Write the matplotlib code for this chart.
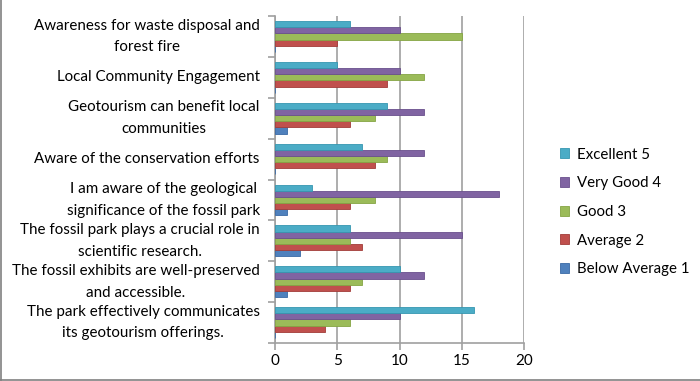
import numpy as np
import matplotlib.pyplot as plt
from matplotlib.lines import Line2D

plt.rcParams['font.family'] = ['Lato', 'DejaVu Sans']

# categories, bottom to top as drawn
categories = [
    "The park effectively communicates\nits geotourism offerings.",
    "The fossil exhibits are well-preserved\nand accessible.",
    "The fossil park plays a crucial role in\nscientific research.",
    "I am aware of the geological\nsignificance of the fossil park",
    "Aware of the conservation efforts",
    "Geotourism can benefit local\ncommunities",
    "Local Community Engagement",
    "Awareness for waste disposal and\nforest fire",
]

below_average_1 = [0, 1, 2, 1, 0, 1, 0, 0]
average_2 = [4, 6, 7, 6, 8, 6, 9, 5]
good_3 = [6, 7, 6, 8, 9, 8, 12, 15]
very_good_4 = [10, 12, 15, 18, 12, 12, 10, 10]
excellent_5 = [16, 10, 6, 3, 7, 9, 5, 6]

series = [
    ("Below Average 1", below_average_1, "#4F81BD", "#3A6AA6"),
    ("Average 2", average_2, "#C0504D", "#A23C39"),
    ("Good 3", good_3, "#9BBB59", "#85A544"),
    ("Very Good 4", very_good_4, "#8064A2", "#6A4F8C"),
    ("Excellent 5", excellent_5, "#4BACC6", "#3596B0"),
]

fig = plt.figure(figsize=(7, 3.81), dpi=100)
ax = fig.add_axes([275 / 700, 1 - 343 / 381, 249 / 700, 327 / 381])

y = np.arange(len(categories))
h = 0.15
for i, (name, vals, col, edge) in enumerate(series):
    ax.barh(y + (i - 2) * h, vals, height=h, color=col, edgecolor=edge,
            linewidth=0.6, label=name, zorder=3)

ax.set_xlim(0, 20)
ax.set_ylim(-0.5, len(categories) - 0.5)
ax.set_xticks([0, 5, 10, 15, 20])
ax.grid(axis='x', color='#A0A0A0', linewidth=1.2, zorder=0)
ax.set_yticks(y)
ax.set_yticklabels(categories, fontsize=10.9, multialignment='center',
                   linespacing=1.7, va='center')
ax.set_yticks(np.arange(-0.5, len(categories), 1), minor=True)
ax.tick_params(axis='y', which='major', length=0, pad=11)
ax.tick_params(axis='y', which='minor', length=5, color='#A0A0A0', width=1.2,
               direction='out')
ax.tick_params(axis='x', length=5, color='#A0A0A0', width=1.2, labelsize=11,
               pad=3)

for s in ['top', 'right']:
    ax.spines[s].set_visible(False)
for s in ['left', 'bottom']:
    ax.spines[s].set_color('#A0A0A0')
    ax.spines[s].set_linewidth(1.2)

handles, labels = ax.get_legend_handles_labels()
fig.legend(handles[::-1], labels[::-1], loc='center left',
           bbox_to_anchor=(546 / 700, 1 - 212 / 381), frameon=False,
           fontsize=10.8, handlelength=0.65, handleheight=0.65,
           labelspacing=0.98, handletextpad=0.5)

# chart border (left and bottom edges show in the reference)
fig.add_artist(Line2D([0.0015, 0.0015], [0.002, 1.0], transform=fig.transFigure,
                      color='#808080', linewidth=1.2))
fig.add_artist(Line2D([0.0, 1.0], [0.003, 0.003], transform=fig.transFigure,
                      color='#808080', linewidth=1.2))

fig.savefig('out.png', dpi=100)
